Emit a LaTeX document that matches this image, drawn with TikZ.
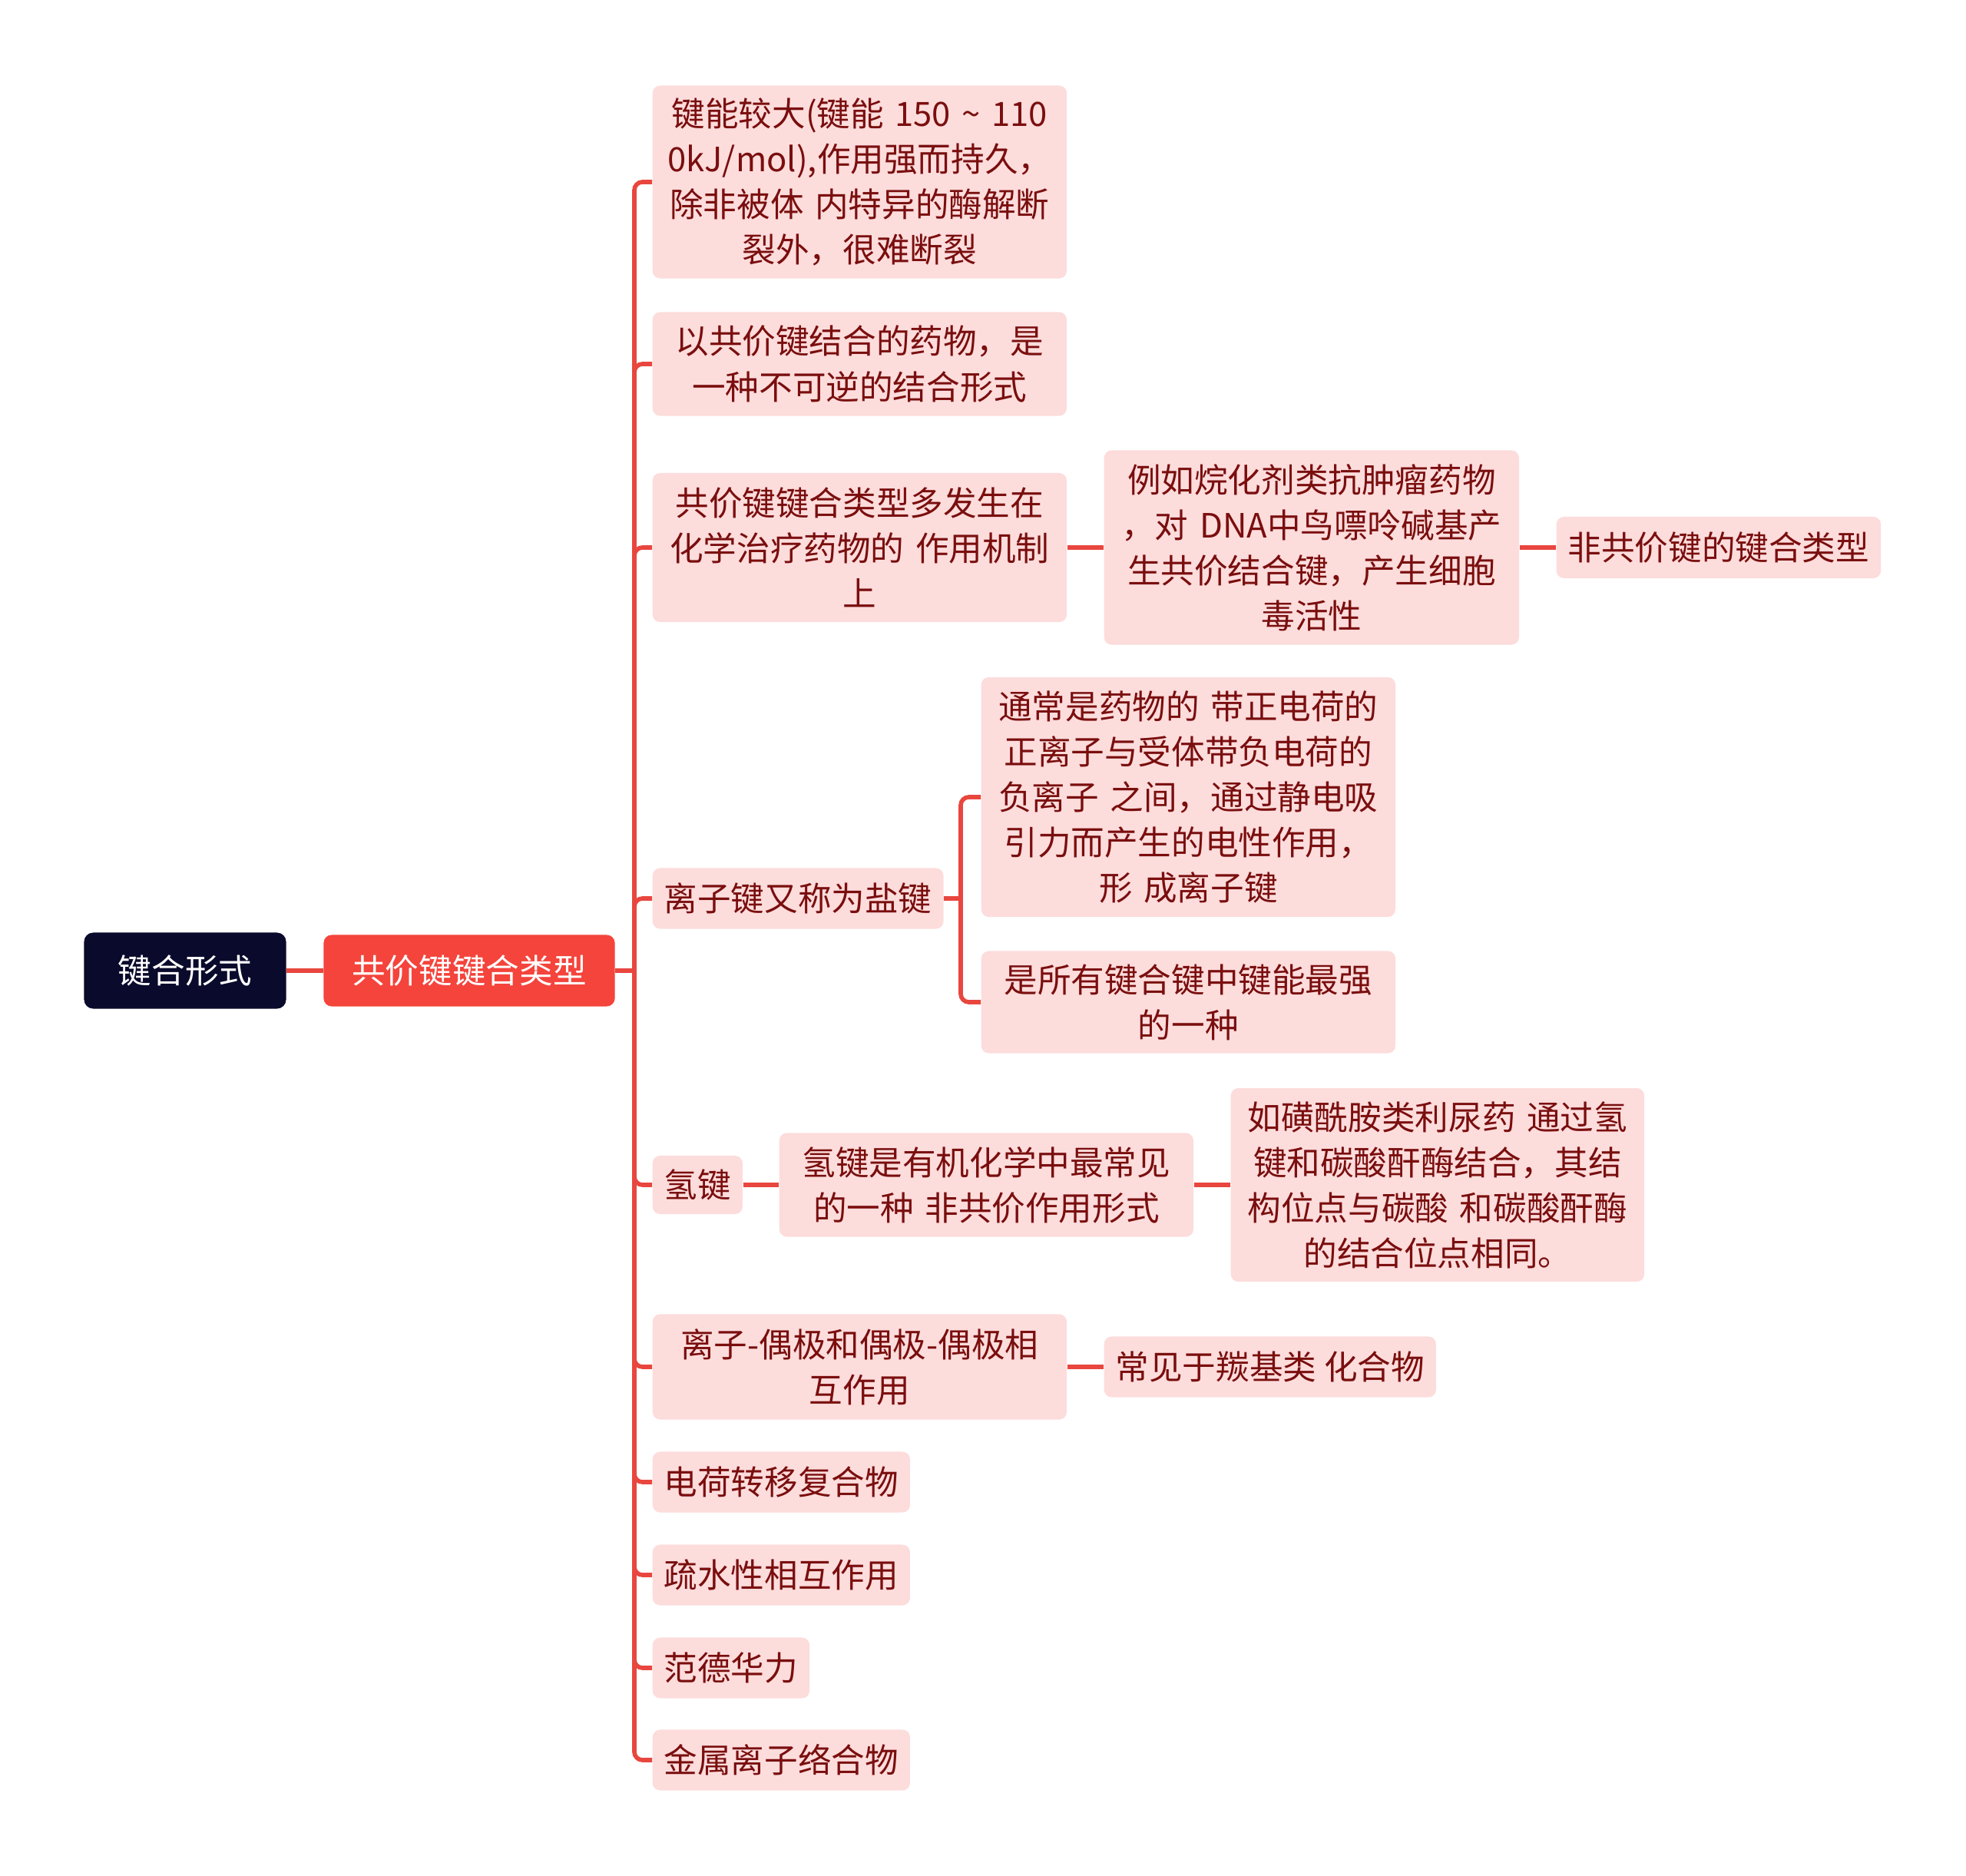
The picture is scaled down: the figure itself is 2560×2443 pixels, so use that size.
\documentclass[tikz,border=0pt]{standalone}
\usepackage{fontspec}
\newfontfamily\cjk{Noto Sans CJK SC}

\definecolor{rootblue}{HTML}{0A0A2C}
\definecolor{mainred}{HTML}{F4443C}
\definecolor{leafpink}{HTML}{FDDCDC}
\definecolor{leaftext}{HTML}{7A0E0E}
\definecolor{linered}{HTML}{E8463E}

\tikzset{
    rootbox/.style={fill=rootblue, text=white, rounded corners=3.4pt, minimum width=2.63cm, minimum height=0.99cm, font={\cjk\fontsize{12.4}{16.8}\selectfont}},
    mainbox/.style={fill=mainred, text=white, rounded corners=3pt, minimum width=3.79cm, minimum height=0.93cm, font={\cjk\fontsize{12.4}{16.8}\selectfont}},
    leafbox/.style={fill=leafpink, text=leaftext, rounded corners=2.8pt, anchor=west, align=center, inner xsep=0.15cm, inner ysep=0.16cm, font={\cjk\fontsize{12.4}{16.8}\selectfont}},
    branch/.style={draw=linered, line width=1.6pt, rounded corners=3pt}
}

\begin{document}
\begin{tikzpicture}[x=0.01cm, y=-0.01cm]
    \useasboundingbox (0,0) rectangle (2560,2443);

    % Draw root and main topic
    \node[rootbox] (root) at (241,1264) {键合形式};
    \node[mainbox] (main) at (611,1264) {共价键键合类型};
    \coordinate (tk) at (826,1264);

    % Draw first level branches
    \node[leafbox, text width=5.09cm, minimum height=2.51cm] (n1) at (849,237) {键能较大(键能 150 \char`\~{} 110\\0kJ/mol),作用强而持久，\\除非被体 内特异的酶解断\\裂外，很难断裂};
    \node[leafbox, text width=5.09cm, minimum height=1.35cm] (n2) at (849,474) {以共价键结合的药物，是\\一种不可逆的结合形式};
    \node[leafbox, text width=5.09cm, minimum height=1.94cm] (n3) at (849,713) {共价键键合类型多发生在\\化学治疗药物的 作用机制\\上};
    \node[leafbox, minimum height=0.79cm] (n4) at (849,1170) {离子键又称为盐键};
    \node[leafbox, minimum height=0.76cm] (n5) at (849,1543) {氢键};
    \node[leafbox, text width=5.09cm, minimum height=1.37cm] (n6) at (849,1780) {离子-偶极和偶极-偶极相\\互作用};
    \node[leafbox, minimum height=0.79cm] (n7) at (849,1930) {电荷转移复合物};
    \node[leafbox, minimum height=0.79cm] (n8) at (849,2051) {疏水性相互作用};
    \node[leafbox, minimum height=0.79cm] (n9) at (849,2172) {范德华力};
    \node[leafbox, minimum height=0.79cm] (n10) at (849,2292) {金属离子络合物};

    % Draw second level branches
    \node[leafbox, text width=5.10cm, minimum height=2.53cm] (n3a) at (1437,713) {例如烷化剂类抗肿瘤药物\\，对 DNA中鸟嘌呤碱基产\\生共价结合键，产生细胞\\毒活性};
    \node[leafbox, minimum height=0.80cm] (n3b) at (2026,713) {非共价键的键合类型};
    \node[leafbox, text width=5.09cm, minimum height=3.12cm] (n4a) at (1277,1038) {通常是药物的 带正电荷的\\正离子与受体带负电荷的\\负离子 之间，通过静电吸\\引力而产生的电性作用，\\形 成离子键};
    \node[leafbox, text width=5.09cm, minimum height=1.33cm] (n4b) at (1277,1305) {是所有键合键中键能最强\\的一种};
    \node[leafbox, text width=5.09cm, minimum height=1.35cm] (n5a) at (1014,1543) {氢键是有机化学中最常见\\的一种 非共价作用形式};
    \node[leafbox, text width=5.08cm, minimum height=2.52cm] (n5b) at (1602,1543) {如磺酰胺类利尿药 通过氢\\键和碳酸酐酶结合，其结\\构位点与碳酸 和碳酸酐酶\\的结合位点相同。};
    \node[leafbox, minimum height=0.79cm] (n6a) at (1437,1780) {常见于羰基类 化合物};

    % Draw connectors
    \draw[branch] (root.east) -- (main.west);
    \draw[branch] (main.east) -- (tk);
    \foreach \n in {n1,n2,n3,n4,n5,n6,n7,n8,n9,n10}
        \draw[branch] (tk) |- (\n.west);
    \draw[branch] (n3.east) -- (n3a.west);
    \draw[branch] (n3a.east) -- (n3b.west);
    \coordinate (ion) at (1251,1170);
    \draw[branch] (n4.east) -- (ion);
    \draw[branch] (ion) |- (n4a.west);
    \draw[branch] (ion) |- (n4b.west);
    \draw[branch] (n5.east) -- (n5a.west);
    \draw[branch] (n5a.east) -- (n5b.west);
    \draw[branch] (n6.east) -- (n6a.west);
\end{tikzpicture}
\end{document}
